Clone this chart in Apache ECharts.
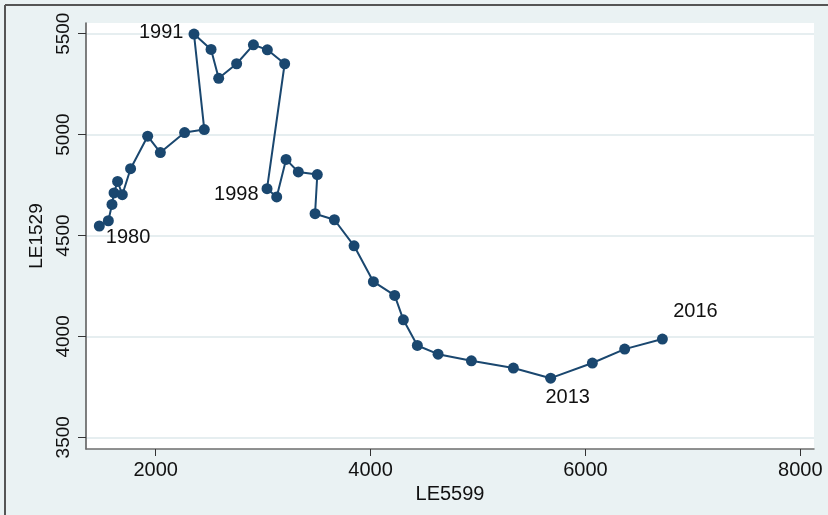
<!DOCTYPE html>
<html>
<head>
<meta charset="utf-8">
<script src="https://cdn.jsdelivr.net/npm/echarts@6/dist/echarts.min.js"></script>
<style>
  html, body { margin: 0; padding: 0; background: #eaf2f3; }
  #chart { width: 828px; height: 515px; }
</style>
</head>
<body>
<div id="chart"></div>
<script>
// Yearly observations, 1980-2016
const years = [1980, 1981, 1982, 1983, 1984, 1985, 1986, 1987, 1988, 1989,
               1990, 1991, 1992, 1993, 1994, 1995, 1996, 1997, 1998, 1999,
               2000, 2001, 2002, 2003, 2004, 2005, 2006, 2007, 2008, 2009,
               2010, 2011, 2012, 2013, 2014, 2015, 2016];
const le5599 = [1475, 1559, 1593, 1612, 1645, 1689, 1766, 1925, 2043, 2269,
                2452, 2356, 2515, 2586, 2753, 2909, 3039, 3200, 3036, 3126,
                3213, 3327, 3504, 3483, 3663, 3846, 4026, 4224, 4305, 4435,
                4628, 4938, 5329, 5676, 6064, 6365, 6716];
const le1529 = [4547, 4573, 4654, 4711, 4768, 4702, 4831, 4992, 4911, 5010,
                5025, 5498, 5422, 5279, 5351, 5445, 5420, 5351, 4732, 4691,
                4877, 4815, 4802, 4608, 4578, 4449, 4271, 4203, 4082, 3955,
                3912, 3879, 3843, 3793, 3868, 3937, 3987];

// Axis tick labels
const xTicks = [2000, 4000, 6000, 8000];
const yTicks = [3500, 4000, 4500, 5000, 5500];

// Years that get a marker label, and where the label sits
const labelledYears = [1980, 1991, 1998, 2013, 2016];
const labelPlacement = {
  1980: { position: 'right',  distance: 1,  offset: [0, 11] },
  1991: { position: 'left',   distance: 5,  offset: [0, -2] },
  1998: { position: 'left',   distance: 3,  offset: [0, 6] },
  2013: { position: 'bottom', distance: 4,  offset: [17, 0] },
  2016: { position: 'top',    distance: 12, offset: [33, 0] }
};

const FONT = '"Liberation Sans", Arial, Helvetica, sans-serif';
const NAVY = '#1a476f';
const plain = v => String(Math.round(v));

const points = years.map((yr, i) => {
  const item = { value: [le5599[i], le1529[i]], year: yr };
  if (labelledYears.includes(yr)) {
    const p = labelPlacement[yr];
    item.label = {
      show: true,
      formatter: String(yr),
      position: p.position,
      distance: p.distance,
      offset: p.offset,
      color: '#111',
      fontSize: 20,
      fontFamily: FONT
    };
  }
  return item;
});

const chart = echarts.init(document.getElementById('chart'), null, { renderer: 'canvas' });
chart.setOption({
  animation: false,
  backgroundColor: '#eaf2f3',
  textStyle: { fontFamily: FONT },
  grid: {
    left: 86, top: 23, right: 14, bottom: 66,
    show: true, backgroundColor: '#ffffff', borderWidth: 0
  },
  graphic: [
    { type: 'line', shape: { x1: 5, y1: 5, x2: 828, y2: 5 },
      style: { stroke: '#555', lineWidth: 2 } },
    { type: 'line', shape: { x1: 5, y1: 5, x2: 5, y2: 515 },
      style: { stroke: '#555', lineWidth: 2 } }
  ],
  xAxis: {
    type: 'value',
    min: 1351, max: 8127,
    name: 'LE5599',
    nameLocation: 'middle',
    nameGap: 30,
    nameTextStyle: { fontSize: 20, color: '#111', fontFamily: FONT },
    axisLine: { show: true, onZero: false, lineStyle: { color: '#6e6e6e', width: 1.5 } },
    axisTick: { show: true, length: 7, customValues: xTicks, lineStyle: { color: '#333', width: 1 } },
    axisLabel: { customValues: xTicks, formatter: plain, fontSize: 20, color: '#111', margin: 11, fontFamily: FONT },
    splitLine: { show: false }
  },
  yAxis: {
    type: 'value',
    min: 3442, max: 5553,
    name: 'LE1529',
    nameLocation: 'middle',
    nameRotate: 90,
    nameGap: 40,
    nameTextStyle: { fontSize: 19, color: '#111', fontFamily: FONT },
    axisLine: { show: true, onZero: false, lineStyle: { color: '#555', width: 1.5 } },
    axisTick: { show: true, length: 8, customValues: yTicks, lineStyle: { color: '#333', width: 1 } },
    axisLabel: { customValues: yTicks, formatter: plain, rotate: 90, fontSize: 19, color: '#111', margin: 13, fontFamily: FONT },
    splitLine: { show: true, lineStyle: { color: '#e6eef0', width: 2 } }
  },
  series: [{
    type: 'line',
    data: points,
    symbol: 'circle',
    symbolSize: 11,
    showAllSymbol: true,
    lineStyle: { color: NAVY, width: 2 },
    itemStyle: { color: NAVY },
    label: { show: false },
    emphasis: { disabled: true }
  }]
});
</script>
</body>
</html>
